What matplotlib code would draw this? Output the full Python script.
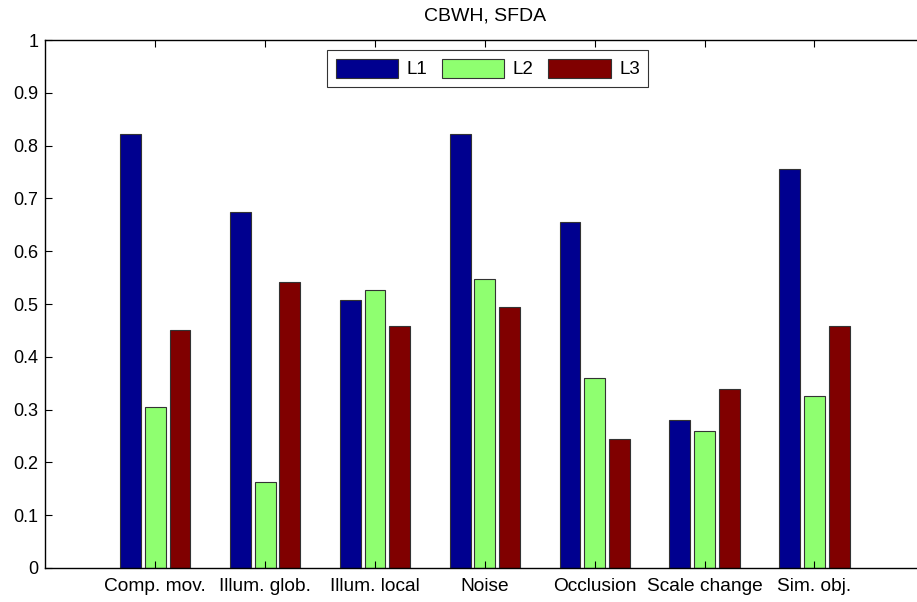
import matplotlib
matplotlib.use('Agg')  # no UI backend

import numpy as np
import matplotlib.pyplot as plt

plt.rcParams['font.family'] = ['Liberation Sans', 'DejaVu Sans']

categories = ['Comp. mov.', 'Illum. glob.', 'Illum. local', 'Noise',
              'Occlusion', 'Scale change', 'Sim. obj.']
series_names = ['L1', 'L2', 'L3']
L1 = [0.822, 0.675, 0.508, 0.822, 0.655, 0.280, 0.755]
L2 = [0.304, 0.163, 0.526, 0.547, 0.360, 0.260, 0.325]
L3 = [0.450, 0.541, 0.459, 0.494, 0.245, 0.339, 0.459]
colors = ['#00008f', '#8fff70', '#800000']

fig = plt.figure(figsize=(9.17, 6.02), dpi=100)
# axes run a little past the right edge of the figure
ax = fig.add_axes([0.0495, 0.0565, 0.9585, 0.877])

x = np.arange(1, len(categories) + 1)
width = 0.19
step = 0.225
for i, (vals, name, c) in enumerate(zip([L1, L2, L3], series_names, colors)):
    ax.bar(x + (i - 1) * step, vals, width, color=c, edgecolor='#333333',
           linewidth=0.8, label=name)

ax.set_xlim(0, 8)
ax.set_ylim(0, 1)
ax.set_xticks(x)
ax.set_xticklabels(categories, fontsize=13.8)
ax.set_yticks(np.arange(0, 1.01, 0.1))
ax.set_yticklabels(['0', '0.1', '0.2', '0.3', '0.4', '0.5', '0.6',
                    '0.7', '0.8', '0.9', '1'], fontsize=13)
ax.tick_params(direction='in', length=5, width=0.8, top=True, right=True)
ax.tick_params(axis='x', pad=7)
ax.tick_params(axis='y', pad=5)
for s in ax.spines.values():
    s.set_linewidth(1.0)

ax.set_title('CBWH, SFDA', fontsize=14, pad=14)

leg = ax.legend(ncol=3, loc='upper left', bbox_to_anchor=(0.3205, 0.981),
                fontsize=13.5, frameon=True, fancybox=False, edgecolor='black',
                handlelength=3.35, handleheight=1.2, handletextpad=0.45,
                columnspacing=0.75, borderpad=0.45, borderaxespad=0)
leg.get_frame().set_linewidth(0.8)

plt.savefig('out.png', dpi=100)
